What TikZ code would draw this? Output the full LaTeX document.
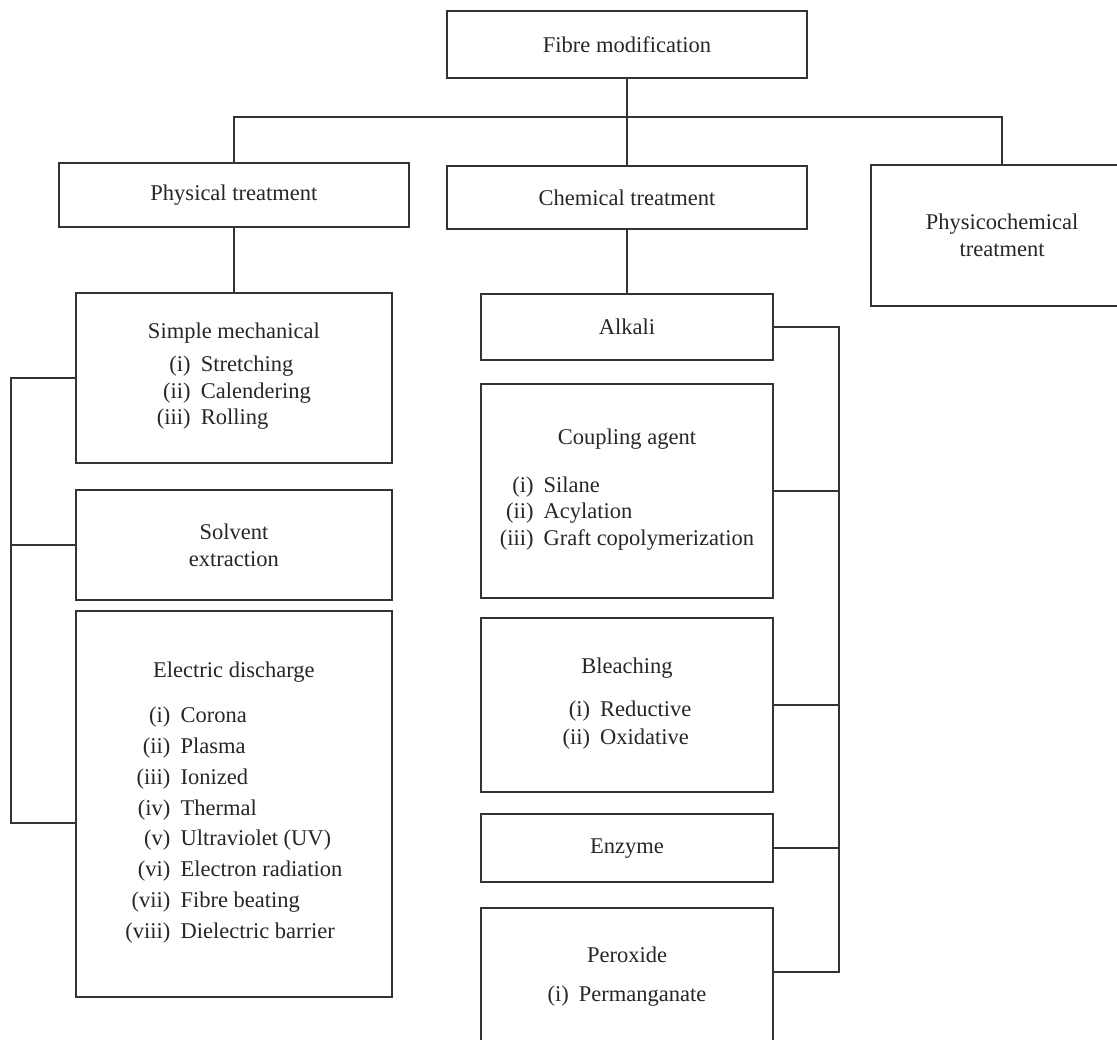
\documentclass[tikz,border=0pt]{standalone}
\usepackage{fontspec}
\setmainfont{Liberation Serif}
\usetikzlibrary{positioning}
\newcommand{\tlist}[1]{\begin{tabular}[t]{@{}r@{\hspace{0.45em}}l@{}}#1\end{tabular}}

\begin{document}
\begin{tikzpicture}[x=0.025cm, y=-0.025cm, line width=1.3pt, draw=black!80,
  every node/.style={align=center, text=black!85, font=\fontsize{16}{19}\selectfont},
  box/.style={draw, rectangle, inner sep=2pt, outer sep=0pt}]
  \useasboundingbox (0,0) rectangle (1117,1039);
  \clip (0,0) rectangle (1117,1039);

  \node[box, minimum width=9cm, minimum height=1.675cm] (fibre) at (627,44.5) {Fibre modification};
  \node[box, below=2.2cm of fibre, minimum width=9cm, minimum height=1.575cm] (chemical) {Chemical treatment};
  \node[box, left=0.95cm of chemical.north west, anchor=north east, yshift=0.075cm, minimum width=8.75cm, minimum height=1.6cm] (physical) {Physical treatment};
  \node[box, right=1.6cm of chemical.north east, anchor=north west, yshift=0.025cm, minimum width=6.55cm, minimum height=3.525cm] (physico) {Physicochemical\\treatment};

  \node[box, below=1.65cm of physical, minimum width=7.9cm, minimum height=4.25cm] (simple) {Simple mechanical\\[4pt]\tlist{(i) & Stretching\\ (ii) & Calendering\\ (iii) & Rolling}};
  \node[box, below=0.675cm of simple, minimum width=7.9cm, minimum height=2.75cm] (solvent) {Solvent\\extraction};
  \node[box, below=0.275cm of solvent, minimum width=7.9cm, minimum height=9.65cm] (electric) {Electric discharge\\[13pt]\tlist{(i) & Corona\\[3pt] (ii) & Plasma\\[3pt] (iii) & Ionized\\[3pt] (iv) & Thermal\\[3pt] (v) & Ultraviolet (UV)\\[3pt] (vi) & Electron radiation\\[3pt] (vii) & Fibre beating\\[3pt] (viii) & Dielectric barrier}};

  \node[box, below=1.625cm of chemical, minimum width=7.3cm, minimum height=1.65cm] (alkali) {Alkali};
  \node[box, below=0.6cm of alkali, minimum width=7.3cm, minimum height=5.35cm] (coupling) {Coupling agent\\[15pt]\tlist{(i) & Silane\\ (ii) & Acylation\\ (iii) & Graft copolymerization}};
  \node[box, below=0.5cm of coupling, minimum width=7.3cm, minimum height=4.35cm] (bleaching) {Bleaching\\[11pt]\tlist{(i) & Reductive\\[1pt] (ii) & Oxidative}};
  \node[box, below=0.55cm of bleaching, minimum width=7.3cm, minimum height=1.7cm] (enzyme) {Enzyme};
  \node[box, below=0.65cm of enzyme, minimum width=7.3cm, minimum height=3.5cm] (peroxide) {Peroxide\\[9pt]\tlist{(i) & Permanganate}};

  \coordinate (bar) at (0,117);
  \coordinate (lbus) at (11,0);
  \coordinate (rbus) at (839,0);
  \coordinate (edtap) at ([shift={(0,19)}]electric.west);
  \coordinate (pxtap) at ([shift={(0,-6)}]peroxide.east);

  \draw (fibre.south) -- (chemical.north);
  \draw (physical.north) |- (bar -| physico.north) -- (physico.north);
  \draw (physical.south) -- (physical.south |- simple.north);
  \draw (chemical.south) -- (alkali.north);

  \draw (simple.west) -- (simple.west -| lbus) -- (edtap -| lbus) -- (edtap);
  \draw (solvent.west) -- (solvent.west -| lbus);

  \draw (alkali.east) -- (alkali.east -| rbus) -- (pxtap -| rbus) -- (pxtap);
  \foreach \n in {coupling, bleaching, enzyme}
    \draw (\n.east) -- (\n.east -| rbus);
\end{tikzpicture}
\end{document}
